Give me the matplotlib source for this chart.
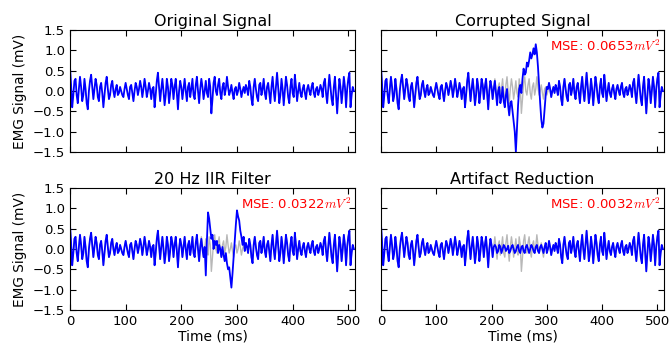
import numpy as np
import matplotlib
matplotlib.use('Agg')
import matplotlib.pyplot as plt

plt.rcParams['mathtext.fontset'] = 'cm'

dt = 2
original = [
    0.6, 0.15, -0.4, -0.1, 0.25, 0.3, -0.1, -0.3, 0.05, 0.35, 0.1, -0.25, -0.1, 0.3, 0.05, -0.3,
    -0.45, 0.0, 0.25, 0.4, 0.1, -0.2, 0.05, 0.3, 0.15, -0.15, -0.25, 0.1, 0.2, -0.05, -0.4, -0.1,
    0.2, 0.35, 0.05, -0.2, -0.1, 0.15, 0.25, 0.0, -0.15, 0.05, 0.15, -0.1, -0.05, 0.1, 0.0, -0.1,
    -0.15, 0.05, 0.2, 0.05, -0.1, -0.2, 0.1, 0.15, -0.05, -0.25, 0.0, 0.2, 0.1, -0.1, 0.05, 0.25,
    0.1, -0.15, 0.05, 0.3, 0.1, -0.15, 0.0, 0.2, 0.05, -0.2, 0.05, 0.1, -0.4, -0.1, 0.25, 0.45,
    0.1, -0.25, 0.05, 0.3, 0.0, -0.35, -0.1, 0.3, 0.1, -0.3, -0.05, 0.3, 0.15, -0.2, 0.1, 0.3,
    -0.05, -0.45, 0.0, 0.25, 0.1, -0.2, 0.05, 0.3, 0.0, -0.25, 0.1, 0.2, -0.15, 0.05, 0.3, -0.1,
    -0.2, 0.15, 0.35, 0.0, -0.3, 0.05, 0.3, 0.1, -0.2, 0.0, 0.25, -0.05, -0.15, 0.3, 0.1, -0.55,
    -0.2, 0.2, 0.35, 0.0, -0.1, 0.15, 0.3, -0.05, -0.2, 0.1, 0.2, -0.1, 0.05, 0.35, 0.1, -0.1,
    0.0, 0.15, -0.05, -0.2, 0.05, 0.1, -0.1, 0.0, 0.2, 0.05, -0.15, 0.0, 0.1, -0.05, 0.15, 0.05,
    -0.1, 0.25, 0.1, -0.2, -0.35, 0.1, 0.3, 0.05, -0.15, -0.25, 0.15, 0.2, -0.1, 0.05, 0.3, -0.05,
    -0.2, 0.1, 0.2, -0.05, -0.3, 0.1, 0.35, 0.0, -0.25, 0.1, 0.45, 0.1, -0.3, -0.1, 0.3, 0.05,
    -0.35, 0.0, 0.35, 0.15, -0.15, -0.3, 0.1, 0.3, -0.05, -0.15, 0.4, 0.1, -0.25, 0.0, 0.2, -0.05,
    -0.15, 0.05, 0.15, -0.05, -0.2, 0.05, 0.15, 0.0, -0.1, 0.1, 0.2, -0.05, -0.15, 0.05, 0.1, -0.1,
    0.0, 0.15, 0.05, -0.15, 0.2, 0.3, -0.05, -0.3, 0.05, 0.4, 0.1, -0.2, -0.35, 0.1, 0.35, -0.1,
    -0.55, -0.1, 0.3, 0.1, -0.3, 0.0, 0.35, 0.1, -0.4, 0.05, 0.3, 0.45, -0.4, -0.1, 0.1, 0.0,
]

# segments where the other signals differ from the original (start time in ms)
corrupted_start = 200
corrupted_seg = [
    0.1, -0.2, 0.05, 0.25, -0.05, -0.35, 0.0, 0.1, -0.3, -0.15, 0.1, -0.25, -0.4, -0.1,
    0.05, -0.35, -0.6, -0.3, -0.25, -0.5, -0.75, -1.0, -1.5, -0.9, -0.35, 0.05, 0.15,
    -0.05, 0.3, 0.55, 0.4, 0.45, 0.7, 0.6, 0.75, 0.95, 0.8, 0.9, 1.05, 0.9, 1.15, 0.95,
    0.6, 0.15, -0.3, -0.7, -0.9, -0.8, -0.45, -0.1, 0.1, 0.05,
]
iir_start = 236
iir_seg = [
    0.25, 0.0, -0.2, 0.05, -0.65, 0.2, 0.9, 0.75, 0.5, 0.25, 0.35, 0.0, 0.2, 0.1,
    0.2, -0.1, 0.1, 0.0, -0.2, 0.05, -0.15, -0.3, -0.1, -0.35, -0.5, -0.45, -0.7,
    -0.95, -0.6, -0.2, 0.2, 0.6, 0.95, 0.8, 0.7, 0.45, 0.3, 0.1, 0.3, -0.05, 0.15,
]
reduced_start = 206
reduced_seg = [
    0.1, 0.05, -0.1, -0.05, 0.1, 0.05, -0.1, 0.0, 0.1, 0.05, -0.05, 0.0, 0.08, -0.1,
    -0.05, 0.05, 0.1, 0.0, -0.1, -0.05, 0.05, 0.1, -0.05, -0.1, 0.05, 0.08, -0.05, -0.1,
    0.05, 0.1, 0.0, -0.1, 0.0, 0.1, 0.05, -0.05, -0.1, 0.05, 0.1, -0.05, -0.1, 0.05,
    0.1, 0.0, -0.1, 0.05, 0.15,
]

titles = ['Original Signal', 'Corrupted Signal', '20 Hz IIR Filter', 'Artifact Reduction']
mse_labels = [None, 'MSE: 0.0653$mV^2$', 'MSE: 0.0322$mV^2$', 'MSE: 0.0032$mV^2$']
y_ticks = [-1.5, -1.0, -0.5, 0.0, 0.5, 1.0, 1.5]
x_ticks = [0, 100, 200, 300, 400, 500]


def splice(base, start, seg):
    out = np.array(base, dtype=float)
    i0 = start // dt
    out[i0:i0 + len(seg)] = seg
    return out


orig = np.array(original)
t = np.arange(len(orig)) * dt
signals = [orig,
           splice(orig, corrupted_start, corrupted_seg),
           splice(orig, iir_start, iir_seg),
           splice(orig, reduced_start, reduced_seg)]

fig = plt.figure(figsize=(6.69, 3.48), dpi=100)
positions = [
    [0.1046, 0.5632, 0.4260, 0.3506],
    [0.5695, 0.5632, 0.4230, 0.3506],
    [0.1046, 0.1092, 0.4260, 0.3506],
    [0.5695, 0.1092, 0.4230, 0.3506],
]

for i in range(4):
    ax = fig.add_axes(positions[i])
    if i > 0:
        ax.plot(t, orig, color='0.72', lw=1.0)
    ax.plot(t, signals[i], color='b', lw=1.3)
    ax.set_xlim(0, 512)
    ax.set_ylim(-1.5, 1.5)
    ax.set_yticks(y_ticks)
    ax.set_xticks(x_ticks)
    ax.tick_params(direction='in', top=True, right=True, length=4, labelsize=9.5)
    ax.set_title(titles[i], fontsize=11.5, pad=3)
    if i % 2 == 0:
        ax.set_ylabel('EMG Signal (mV)', fontsize=9.8)
    else:
        ax.set_yticklabels([])
    if i >= 2:
        ax.set_xlabel('Time (ms)', fontsize=10, labelpad=1)
    else:
        ax.set_xticklabels([])
    if mse_labels[i]:
        ax.text(0.985, 0.93, mse_labels[i], color='red', fontsize=9.5,
                ha='right', va='top', transform=ax.transAxes)

fig.savefig('out.png', dpi=100)
